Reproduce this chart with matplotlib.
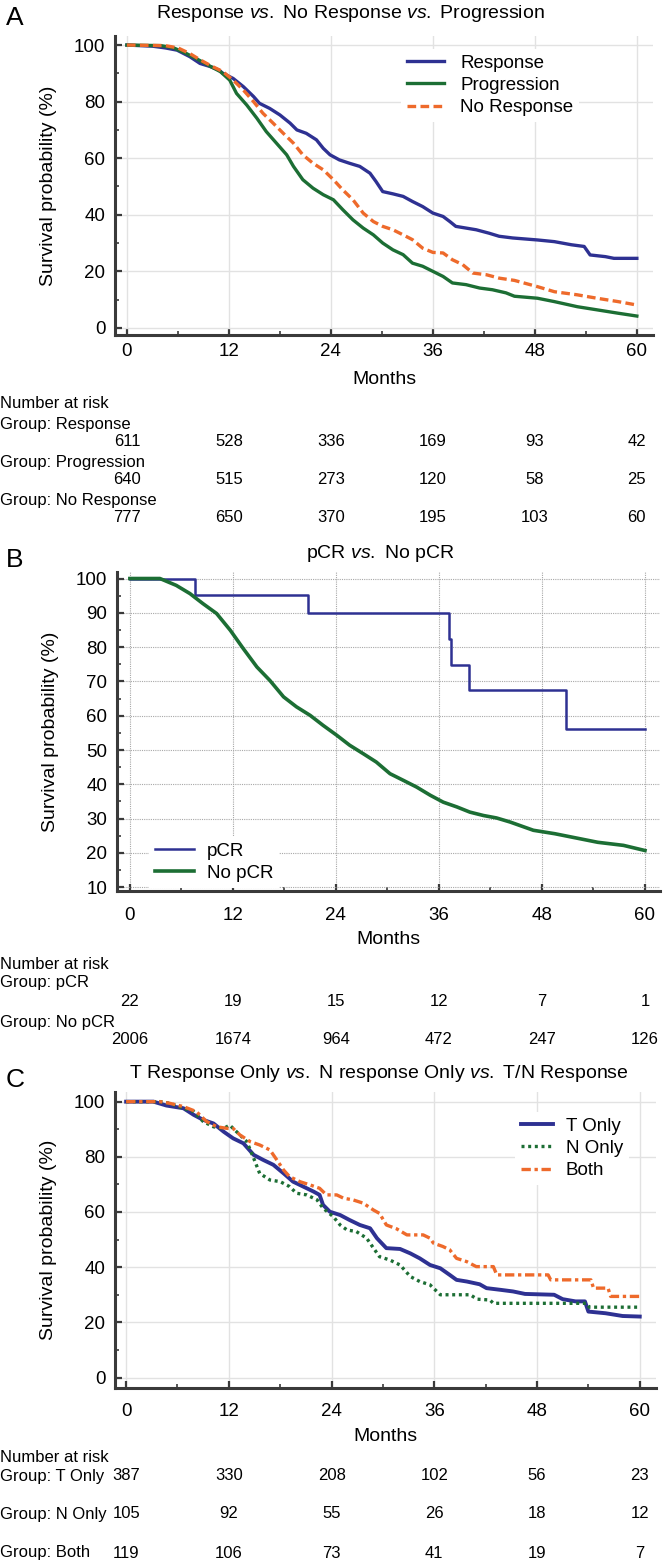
import matplotlib
matplotlib.use('Agg')
import matplotlib.pyplot as plt
from matplotlib.ticker import MultipleLocator
from matplotlib.transforms import blended_transform_factory

plt.rcParams['font.family'] = ['Liberation Sans', 'DejaVu Sans']
plt.rcParams['mathtext.fontset'] = 'custom'
plt.rcParams['mathtext.rm'] = 'Liberation Sans'
plt.rcParams['mathtext.it'] = 'Liberation Sans:italic'

# ---- data (months, survival %) ----
risk_times = [0, 12, 24, 36, 48, 60]

# panel A
resp_t = [0, 3, 4.5, 5.9, 7.4, 8.6, 9.8, 10.8, 11.3, 12.5, 13.7, 14.9, 15.6, 16.8, 18, 19.2,
          20, 21.1, 22.3, 23.1, 23.9, 25, 26.2, 27.4, 28.6, 29.3, 30.1, 31.3, 32.5, 33.6, 34.8,
          36, 37.2, 38, 38.7, 39.9, 41.1, 42.6, 43.8, 45.4, 48.3, 50.3, 52.3, 53.8, 54.5, 56.3,
          57.3, 60]
resp_s = [100, 99.6, 99, 98.2, 95.9, 93.5, 92.4, 91.2, 90, 88.2, 85.3, 81.8, 79.4, 77.6, 75.3,
          72.4, 70, 68.8, 66.5, 63.5, 61.2, 59.4, 58.2, 57.1, 54.7, 51.8, 48.2, 47.4, 46.5, 44.7,
          42.9, 40.6, 39.4, 37.6, 35.9, 35.3, 34.7, 33.5, 32.4, 31.8, 31.1, 30.5, 29.4, 28.8,
          25.8, 25.2, 24.6, 24.6]
prog_t = [0, 4, 5.5, 7, 8.6, 9.8, 11, 12.1, 12.9, 14.1, 15.3, 16.4, 17.6, 18.8, 19.6, 20.7,
          21.9, 23.1, 24.3, 25.4, 26.6, 27.8, 29, 30.1, 31.3, 32.5, 33.6, 34.8, 36, 37.2, 38.3,
          39.9, 41.5, 43, 44.6, 45.6, 48.3, 50.3, 53, 55.3, 57.8, 60]
prog_s = [100, 99.8, 99, 97, 94.5, 92.5, 90.6, 87.6, 82.9, 78.8, 74.1, 69.4, 65.3, 61.2, 57.1,
          52.4, 49.4, 47.1, 45.3, 41.8, 38.2, 35.3, 32.9, 30, 27.6, 25.9, 22.9, 21.8, 20, 18.2,
          15.9, 15.3, 14.1, 13.5, 12.4, 11.2, 10.5, 9.3, 7.5, 6.4, 5.2, 4.2]
nores_t = [0, 4.5, 6, 7.4, 8.6, 10, 11.3, 12.5, 13.7, 14.9, 16, 17.2, 18.4, 19.6, 20.7, 21.9,
           23.1, 24.3, 25.4, 26.6, 27.8, 29, 30.1, 31.3, 32.5, 33.6, 34.8, 36, 37.2, 38.3, 39.5,
           40.7, 42.3, 43.8, 45.6, 48.3, 50.3, 53, 55.3, 57.8, 60]
nores_s = [100, 99.8, 99, 97, 94.8, 92.5, 90.6, 87.6, 84.1, 80, 75.9, 72.4, 68.8, 65.3, 61.2,
           58.2, 55.9, 52.4, 48.8, 45.3, 40.6, 37.6, 35.9, 34.7, 32.9, 31.2, 28.2, 26.7, 26.5,
           24.1, 22.4, 19.4, 18.8, 17.6, 16.8, 14.6, 12.8, 11.7, 10.5, 9.3, 8.1]

# panel B
pcr_t = [0, 7.6, 20.8, 37.2, 37.4, 39.5, 50.8, 60]
pcr_s = [100, 95.3, 90, 82.3, 74.9, 67.4, 56.2, 56.2]
nopcr_t = [0, 3.5, 5.4, 7, 8.5, 10.1, 11.7, 13.2, 14.8, 16.3, 17.9, 19.4, 21, 22.5, 24.1, 25.6,
           27.2, 28.7, 30.3, 31.9, 33.4, 35, 36.5, 38.1, 39.6, 41.2, 42.7, 44.3, 47, 49.5, 54.5,
           57.5, 60]
nopcr_s = [100, 100, 98, 95.6, 92.7, 89.8, 84.9, 79.6, 74.2, 70.3, 65.5, 62.6, 60.1, 57.2,
           54.3, 51.4, 48.9, 46.5, 43.1, 41.1, 39.2, 36.8, 34.8, 33.4, 31.9, 30.9, 30.2, 29,
           26.6, 25.6, 23.1, 22.2, 20.7]

# panel C
tonly_t = [0, 3.2, 4.7, 6.7, 7.9, 9, 10.2, 11.4, 12.5, 13.7, 14.9, 16, 17.2, 18.4, 19.5, 20.7,
           21.9, 22.6, 23, 23.8, 25, 26.1, 27.3, 28.5, 29.3, 30.4, 32, 33.2, 34.3, 35.5, 36.7,
           37.8, 38.6, 39.8, 41.3, 42.1, 43.7, 45.2, 46.6, 50, 51, 52.5, 53.6, 54, 56, 58, 60]
tonly_s = [100, 100, 98.6, 97.6, 95.2, 93.4, 92.1, 89.1, 86.7, 84.9, 80.7, 78.9, 77.1, 74, 71,
           69.2, 67.4, 66.2, 62.6, 60.1, 58.9, 57.1, 55.3, 54.1, 50.5, 46.9, 46.6, 45, 43.2,
           40.8, 39.6, 37.2, 35.4, 34.8, 33.8, 32.4, 31.8, 31.2, 30.3, 30, 28.4, 27.6, 27.6,
           23.9, 23.3, 22.3, 22.1]
nonly_t = [0, 4, 5.1, 6.7, 7.9, 9, 10.2, 11.4, 12.1, 12.9, 14.1, 14.9, 15.6, 16.8, 18, 19.1,
           19.9, 21.1, 22.3, 23, 24.2, 25, 25.8, 26.9, 28.1, 28.9, 29.6, 30.8, 32, 33.2, 34.3,
           35.5, 36.7, 40.2, 41, 42.5, 42.9, 53.8, 54.1, 60]
nonly_s = [100, 100, 99.4, 97.6, 96.4, 92.8, 90.9, 90.3, 91.5, 89.1, 85.5, 79.5, 74, 71.6, 71,
           69.2, 66.8, 66.2, 64.4, 61.4, 58.3, 55.3, 53.5, 52.9, 50.5, 46.9, 43.8, 42.6, 40.8,
           36.6, 34.8, 33.6, 30, 30, 28.4, 28.1, 26.9, 26.9, 25.5, 25.5]
both_t = [0, 4, 5.1, 6.7, 8.2, 9.4, 10.6, 11.8, 12.5, 13.3, 14.5, 15.6, 16.8, 17.6, 18.4, 19.1,
          20.3, 21.5, 22.6, 23.4, 24.6, 25.4, 26.5, 27.7, 28.9, 29.6, 30.4, 31.6, 32.8, 34.7,
          35.5, 35.9, 37, 37.8, 38.6, 39.8, 40.9, 42.9, 43.3, 49.3, 49.6, 54.3, 54.6, 56.3,
          56.6, 60]
both_s = [100, 100, 99.4, 98.2, 96.4, 92.8, 90.9, 90.3, 90.3, 87.9, 85.5, 84.3, 82.5, 78.9,
          75.2, 72.8, 71, 69.8, 68.6, 66.2, 66.2, 65, 64.4, 63.2, 60.7, 59.5, 55.3, 53.9, 51.7,
          51.7, 50.5, 48.7, 47.5, 46.3, 43.2, 42, 40.2, 40.2, 37.2, 37.2, 35.4, 35.4, 32.4,
          32.4, 29.4, 29.4]

risk_a = {'Response': [611, 528, 336, 169, 93, 42],
          'Progression': [640, 515, 273, 120, 58, 25],
          'No Response': [777, 650, 370, 195, 103, 60]}
risk_b = {'pCR': [22, 19, 15, 12, 7, 1],
          'No pCR': [2006, 1674, 964, 472, 247, 126]}
risk_c = {'T Only': [387, 330, 208, 102, 56, 23],
          'N Only': [105, 92, 55, 26, 18, 12],
          'Both': [119, 106, 73, 41, 19, 7]}

BLUE = '#2e3192'
GREEN = '#1c6e34'
ORANGE = '#ee6a2b'
DARK = '#3a3a3a'

W, H = 666, 1566
fig = plt.figure(figsize=(W / 100, H / 100), dpi=100)


def fx(x):
    return x / W


def fy(y):
    return 1 - y / H


def make_axes(left, top, right, bottom):
    return fig.add_axes([fx(left), fy(bottom), (right - left) / W, (bottom - top) / H])


def style(ax, xlim, ylim, ystep, yminor, xpad, xlabelpad, dotted_grid=False):
    ax.set_xlim(xlim)
    ax.set_ylim(ylim)
    ax.xaxis.set_major_locator(MultipleLocator(12))
    ax.xaxis.set_minor_locator(MultipleLocator(6))
    ax.yaxis.set_major_locator(MultipleLocator(ystep))
    ax.yaxis.set_minor_locator(MultipleLocator(yminor))
    for s in ['top', 'right']:
        ax.spines[s].set_visible(False)
    for s in ['left', 'bottom']:
        ax.spines[s].set_linewidth(2.2)
        ax.spines[s].set_color(DARK)
    ax.tick_params(which='major', direction='in', length=5, width=1.6, color=DARK,
                   labelsize=13.5)
    ax.tick_params(axis='x', which='major', pad=xpad)
    ax.tick_params(axis='y', which='major', pad=7)
    ax.tick_params(which='minor', direction='in', length=3, width=1.2, color=DARK)
    if dotted_grid:
        ax.grid(True, which='major', color='#a8a8a8', lw=0.8, linestyle=(0, (1, 1)))
    else:
        ax.grid(True, which='major', color='#e2e2e2', lw=1.0)
    ax.set_axisbelow(True)
    ax.set_xlabel('Months', fontsize=14, labelpad=xlabelpad)
    ax.set_ylabel('Survival probability (%)', fontsize=14, labelpad=12)


def header(letter, title, y_letter, x_title, y_title):
    fig.text(fx(6), fy(y_letter), letter, fontsize=19, ha='left', va='center')
    fig.text(fx(x_title), fy(y_title), title, fontsize=14, ha='center', va='center')


def risk_table(ax, table, y_head, rows):
    trans = blended_transform_factory(ax.transData, fig.transFigure)
    fig.text(0.0, fy(y_head), 'Number at risk', fontsize=12, ha='left', va='center')
    for (name, nums), (y_lab, y_num) in zip(table.items(), rows):
        fig.text(0.0, fy(y_lab), 'Group: ' + name, fontsize=12, ha='left', va='center')
        for t, n in zip(risk_times, nums):
            ax.text(t, fy(y_num), str(n), transform=trans, fontsize=12,
                    ha='center', va='center', clip_on=False)


def legend(ax, left, top, hlen, pad):
    ax.legend(loc='upper left', bbox_to_anchor=(fx(left), fy(top)),
              bbox_transform=fig.transFigure, fontsize=13.5, frameon=True,
              facecolor='white', edgecolor='none', framealpha=1, fancybox=False,
              borderpad=0.3, borderaxespad=0, labelspacing=0.27,
              handlelength=hlen, handletextpad=pad)


# ---- panel A ----
axA = make_axes(115, 36, 653, 335)
style(axA, (-1.4, 61.9), (-2.5, 103.2), 20, 10, xpad=6, xlabelpad=7.5)
axA.plot(resp_t, resp_s, color=BLUE, lw=2.4, label='Response')
axA.plot(prog_t, prog_s, color=GREEN, lw=2.4, label='Progression')
axA.plot(nores_t, nores_s, color=ORANGE, lw=2.4, dashes=(2.6, 1.3), label='No Response')
legend(axA, 401, 49, 2.0, 0.85)
header('A', r'Response $\mathit{vs.}$ No Response $\mathit{vs.}$ Progression', 18, 350, 14)
risk_table(axA, risk_a, 404, [(424, 441), (462, 480), (501, 518)])

# ---- panel B ----
axB = make_axes(117, 572, 660, 891)
style(axB, (-1.5, 61.75), (8.9, 101.9), 10, 5, xpad=11.5, xlabelpad=5)
axB.step(pcr_t, pcr_s, where='post', color=BLUE, lw=1.8, label='pCR')
axB.plot(nopcr_t, nopcr_s, color=GREEN, lw=2.6, label='No pCR')
axB.grid(True, which='major', color='#a8a8a8', lw=0.8, linestyle=(0, (1, 1)))
legend(axB, 149, 837, 2.1, 0.7)
header('B', r'pCR $\mathit{vs.}$ No pCR', 560, 380, 554)
risk_table(axB, risk_b, 964, [(983, 1002), (1022, 1040)])

# ---- panel C ----
axC = make_axes(115, 1092, 656, 1388)
style(axC, (-1.3, 61.9), (-3.8, 103.5), 20, 10, xpad=11, xlabelpad=5.5)
axC.plot(tonly_t, tonly_s, color=BLUE, lw=2.8, label='T Only')
axC.plot(nonly_t, nonly_s, color=GREEN, lw=2.4, linestyle=(0, (0.9, 1.1)), label='N Only')
axC.plot(both_t, both_s, color=ORANGE, lw=2.4, linestyle=(0, (2.8, 1.1, 1.0, 1.1)), label='Both')
legend(axC, 515, 1112, 1.75, 0.65)
header('C', r'T Response Only $\mathit{vs.}$ N response Only $\mathit{vs.}$ T/N Response',
       1080, 379, 1073)
risk_table(axC, risk_c, 1458, [(1476, 1476), (1514, 1514), (1553, 1553)])

fig.savefig('out.png', dpi=100)
